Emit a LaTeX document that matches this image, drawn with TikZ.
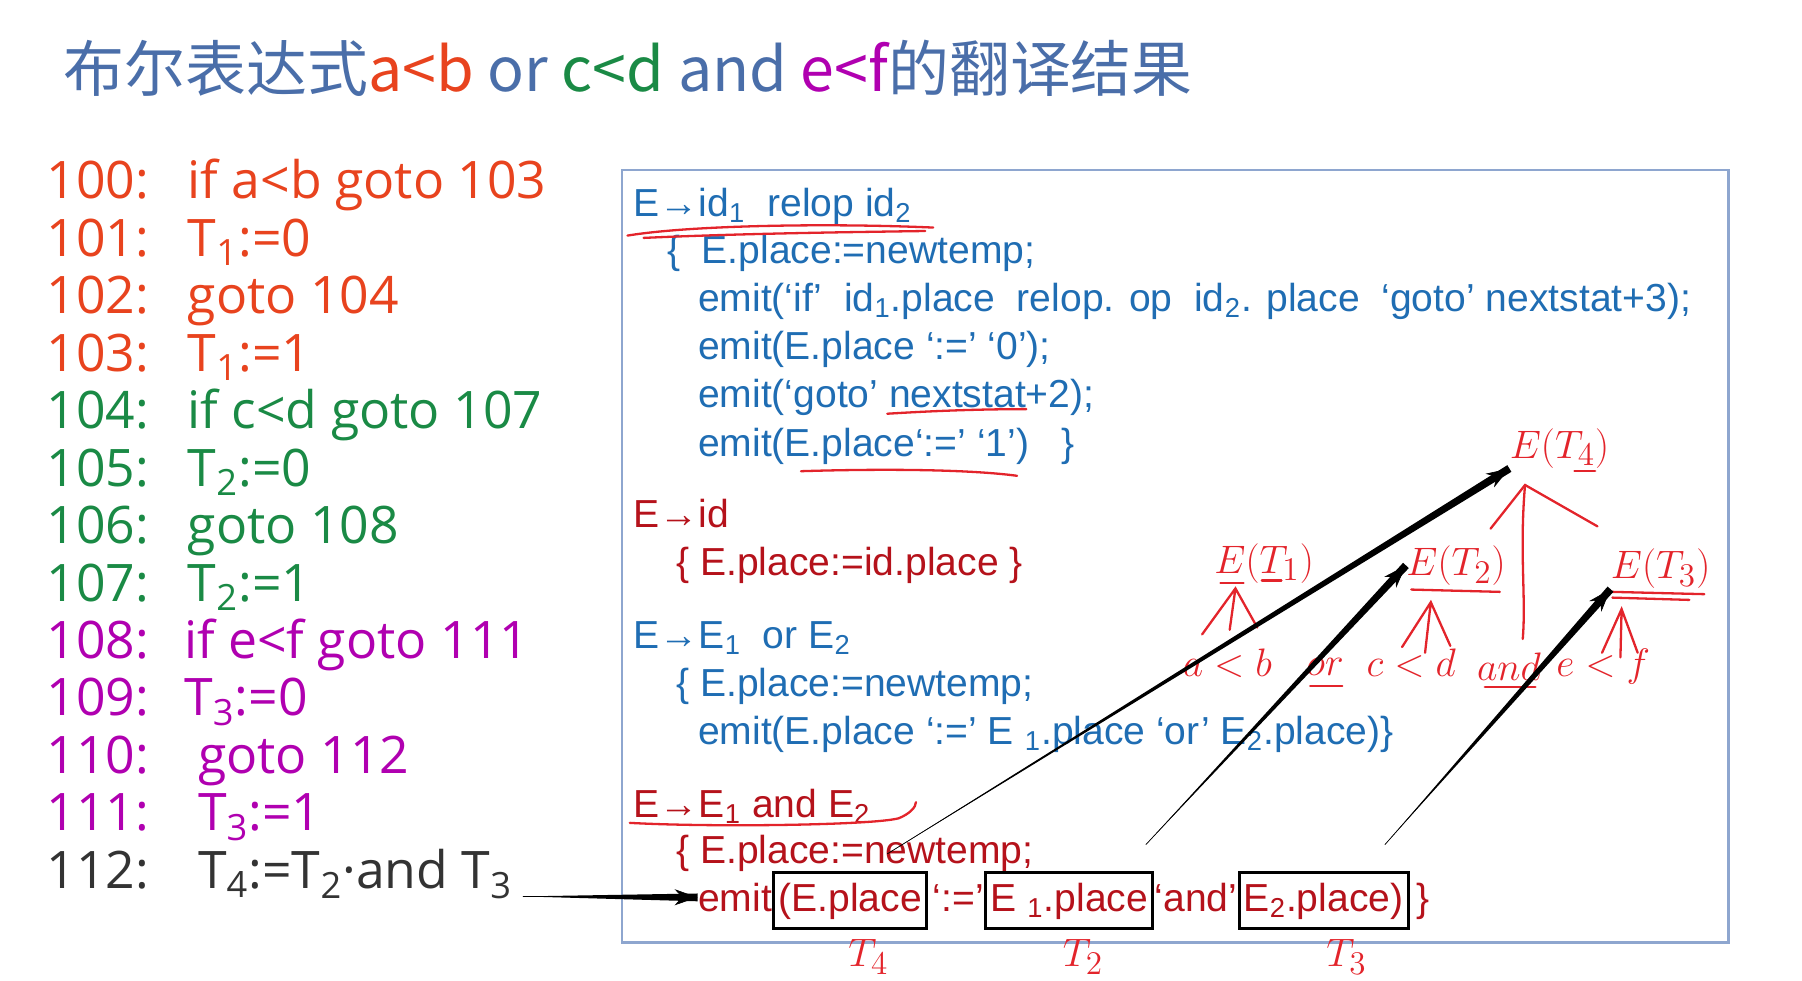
\documentclass[tikz,border=0pt]{standalone}
\usepackage{fontspec}
\setmainfont{Liberation Sans}
\newfontfamily\cjkfont{Noto Sans CJK SC}
\newfontfamily\listfont{Open Sans}
\usetikzlibrary{arrows.meta,positioning,calc}
\definecolor{titleblue}{HTML}{4A6EA9}
\definecolor{lred}{HTML}{E8431E}
\definecolor{lgreen}{HTML}{1A8A45}
\definecolor{lmag}{HTML}{B000B0}
\definecolor{lgray}{HTML}{333333}
\definecolor{codeblue}{HTML}{1F6DB3}
\definecolor{codered}{HTML}{B5121B}
\definecolor{frame}{HTML}{8EA6CF}
\definecolor{penred}{HTML}{E3242B}

% tapered black pointer: thin at the start, thick at the head
\newcommand{\taper}[2]{%
  \fill[black] (#1) -- ($(#2)!1.7pt!90:(#1)$) -- ($(#2)!1.7pt!-90:(#1)$) -- cycle;
  \draw[-{Stealth[length=10pt,width=7pt]},line width=0.3pt] (#1) -- (#2);}

\begin{document}
\begin{tikzpicture}[x=0.5pt,y=-0.5pt,
 every node/.style={inner sep=0pt},
 listline/.style={anchor=base west,font=\listfont\fontsize{22.5}{27}\selectfont},
 code/.style={anchor=base west,font=\fontsize{17}{20}\selectfont},
 slot/.style={draw=black,line width=1.3pt,inner xsep=2pt,inner ysep=2pt,
   text height=15pt,text depth=5.5pt},
 hand/.style={text=penred,font=\fontsize{19}{19}\selectfont},
 stroke/.style={draw=penred,line width=1pt,line cap=round}]
\useasboundingbox (0,0) rectangle (1568,853);

% title
\node[anchor=base west,font=\cjkfont\fontsize{26.5}{30}\selectfont,text=titleblue] (title) at (55,80)
 {布尔表达式\textcolor{lred}{a<b} or \textcolor{lgreen}{c<d} and \textcolor{lmag}{e<f}的翻译结果};

% three-address code
\node[listline,text=lred] (n100) at (40,173) {100:};
\node[listline,text=lred] (c100) at (163,173) {if a<b goto 103};
\node[listline,text=lred] (n101) at (40,223) {101:};
\node[listline,text=lred] (c101) at (163,223) {T\textsubscript{1}:=0};
\node[listline,text=lred] (n102) at (40,273) {102:};
\node[listline,text=lred] (c102) at (163,273) {goto 104};
\node[listline,text=lred] (n103) at (40,323) {103:};
\node[listline,text=lred] (c103) at (163,323) {T\textsubscript{1}:=1};
\node[listline,text=lgreen] (n104) at (40,373) {104:};
\node[listline,text=lgreen] (c104) at (163,373) {if c<d goto 107};
\node[listline,text=lgreen] (n105) at (40,423) {105:};
\node[listline,text=lgreen] (c105) at (163,423) {T\textsubscript{2}:=0};
\node[listline,text=lgreen] (n106) at (40,473) {106:};
\node[listline,text=lgreen] (c106) at (163,473) {goto 108};
\node[listline,text=lgreen] (n107) at (40,523) {107:};
\node[listline,text=lgreen] (c107) at (163,523) {T\textsubscript{2}:=1};
\node[listline,text=lmag] (n108) at (40,573) {108:};
\node[listline,text=lmag] (c108) at (160,573) {if e<f goto 111};
\node[listline,text=lmag] (n109) at (40,623) {109:};
\node[listline,text=lmag] (c109) at (160,623) {T\textsubscript{3}:=0};
\node[listline,text=lmag] (n110) at (40,673) {110:};
\node[listline,text=lmag] (c110) at (172,673) {goto 112};
\node[listline,text=lmag] (n111) at (40,723) {111:};
\node[listline,text=lmag] (c111) at (172,723) {T\textsubscript{3}:=1};
\node[listline,text=lgray] (n112) at (40,773) {112:};
\node[listline,text=lgray] (c112) at (172,773) {T\textsubscript{4}:=T\textsubscript{2}·and T\textsubscript{3}};

% translation scheme
\draw[frame,line width=1pt] (541,148) rectangle (1504,820);
\node[code,text=codeblue] (r1) at (551,188) {E→id\textsubscript{1}\ \ relop id\textsubscript{2}};
\node[code,text=codeblue] (r1a) at (580,229) {\{\ \ E.place:=newtemp;};
\node[code,text=codeblue] (r1b) at (607,271) {emit(‘if’\ \ id\textsubscript{1}.place\ \ relop. op\ \ id\textsubscript{2}. place\ \ ‘goto’ nextstat+3);};
\node[code,text=codeblue] (r1c) at (607,313) {emit(E.place ‘:=’ ‘0’);};
\node[code,text=codeblue] (r1d) at (607,355) {emit(‘goto’ nextstat+2);};
\node[code,text=codeblue] (r1e) at (607,397) {emit(E.place‘:=’ ‘1’)\ \ \ \}};
\node[code,text=codered] (r2) at (551,459) {E→id};
\node[code,text=codered] (r2a) at (588,501) {\{ E.place:=id.place \}};
\node[code,text=codeblue] (r3) at (551,564) {E→E\textsubscript{1}\ \ or E\textsubscript{2}};
\node[code,text=codeblue] (r3a) at (588,606) {\{ E.place:=newtemp;};
\node[code,text=codeblue] (r3b) at (607,648) {emit(E.place ‘:=’ E \textsubscript{1}.place ‘or’ E\textsubscript{2}.place)\}};
\node[code,text=codered] (r4) at (551,711) {E→E\textsubscript{1} and E\textsubscript{2}};
\node[code,text=codered] (r4a) at (588,751) {\{ E.place:=newtemp;};
\node[code,text=codered] (r4b) at (607,793) {emit};
\node[code,slot,text=codered] (bxA) at (r4b.base east) {(E.place\ };
\node[code,text=codered] (q1) at (bxA.base east) {\hspace{2pt}‘:=’\hspace{2pt}};
\node[code,slot,text=codered] (bxB) at (q1.base east) {E \textsubscript{1}.place};
\node[code,text=codered] (q2) at (bxB.base east) {‘and’};
\node[code,slot,text=codered] (bxC) at (q2.base east) {E\textsubscript{2}.place)};
\node[code,text=codered] (q3) at (bxC.base east) {\hspace{3pt}\}};

% handwritten notes
\node[hand,below=4pt of bxA,xshift=8pt] (t4) {$T_4$};
\node[hand,below=4pt of bxB,xshift=6pt] (t2) {$T_2$};
\node[hand,below=4pt of bxC,xshift=10pt] (t3) {$T_3$};
\draw[stroke] (546,205) .. controls (600,196) and (720,194) .. (812,198);
\draw[stroke] (560,207) .. controls (650,203) and (740,202) .. (805,201);
\draw[stroke] (772,360) .. controls (820,357) and (860,356) .. (893,356);
\draw[stroke] (697,410) .. controls (760,408) and (840,408) .. (885,414);
\draw[stroke] (548,716) .. controls (620,720) and (760,718) .. (782,712)
 .. controls (792,708) and (797,702) .. (797,698);

% parse tree
\node[hand] (eT4) at (1357,390) {$E(T_4)$};
\node[hand] (eT1) at (1100,490) {$E(T_1)$};
\node[hand] (eT2) at (1267,492) {$E(T_2)$};
\node[hand] (eT3) at (1445,495) {$E(T_3)$};
\node[hand] (la) at (1068,577) {$a<b$};
\node[hand] (lo) at (1153,580) {$or$};
\node[hand] (lc) at (1228,577) {$c<d$};
\node[hand] (ln) at (1313,580) {$and$};
\node[hand] (le) at (1395,580) {$e<f$};
\draw[stroke] (1297,460) -- (1327,422) -- (1390,458);
\draw[stroke] (1327,422) .. controls (1322,480) and (1328,520) .. (1325,556);
\draw[stroke] (1046,552) -- (1075,512) -- (1094,546) (1075,512) -- (1070,548);
\draw[stroke] (1220,563) -- (1245,524) -- (1262,562) (1245,524) -- (1240,568);
\draw[stroke] (1394,568) -- (1411,530) -- (1425,568) (1411,530) -- (1410,572);
\draw[stroke] (1370,410) -- (1388,410);
\draw[stroke] (1062,507) -- (1082,507) (1098,505) -- (1115,505);
\draw[stroke] (1228,513) -- (1305,515);
\draw[stroke] (1403,515) -- (1483,517) (1403,520) -- (1470,522);
\draw[stroke] (1140,597) -- (1168,597) (1292,598) -- (1336,598);

% pointers
\coordinate (s0) at (455,780);
\coordinate (s1) at (772,743);
\coordinate (s2) at (997,735);
\coordinate (s3) at (1205,735);
\taper{s0}{r4b.west}
\taper{s1}{eT4.south west}
\taper{s2}{eT2.west}
\taper{s3}{eT3.south west}
\end{tikzpicture}
\end{document}
